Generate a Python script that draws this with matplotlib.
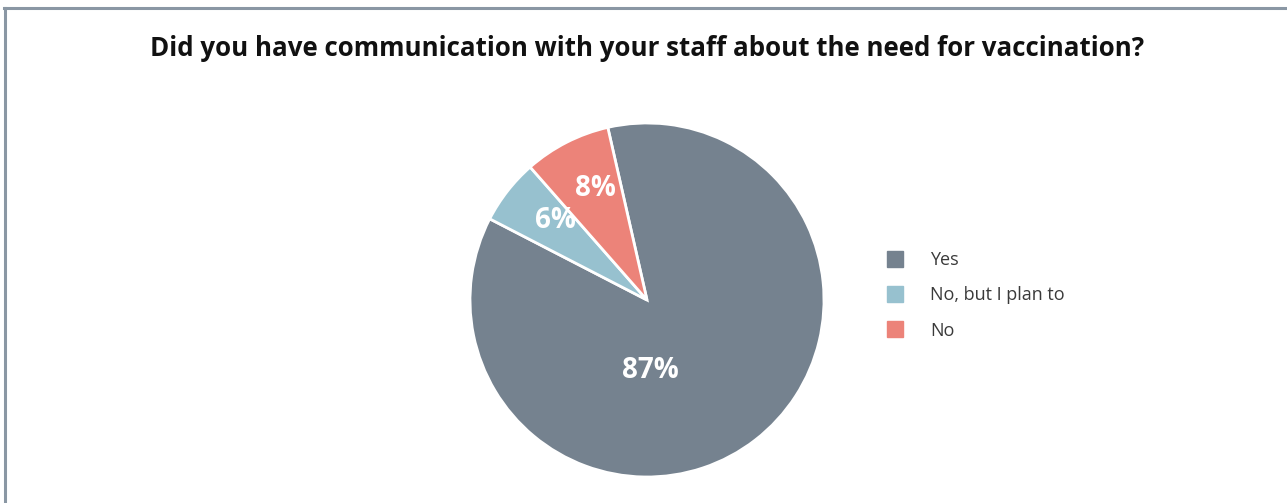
import matplotlib.pyplot as plt
from matplotlib.lines import Line2D

answers = ["Yes", "No, but I plan to", "No"]
shares = [87, 6, 8]
colors = ["#75828f", "#97c1cf", "#ec8379"]

plt.rcParams["font.family"] = ["Open Sans", "DejaVu Sans"]

W, H = 1287, 503
fig = plt.figure(figsize=(W / 100, H / 100), dpi=100)

# light frame: top and left edges only
fig.add_artist(Line2D([4 / W, 1], [1 - 8 / H, 1 - 8 / H], color="#8a97a4", lw=2.2))
fig.add_artist(Line2D([5 / W, 5 / W], [0, 1 - 8 / H], color="#8a97a4", lw=2.2))

fig.text(647 / W, 1 - 49 / H, "Did you have communication with your staff about the need for vaccination?",
         ha="center", va="center", fontsize=18.6, fontweight="bold", color="#111111")

cx, cy, r = 647, 300, 177
ax = fig.add_axes([(cx - r) / W, (H - cy - r) / H, 2 * r / W, 2 * r / H])
wedges, texts, autotexts = ax.pie(
    shares, colors=colors, startangle=102.8, counterclock=False,
    autopct=lambda p: "", pctdistance=0.7,
    wedgeprops=dict(edgecolor="white", linewidth=2),
)
ax.set_xlim(-1, 1)
ax.set_ylim(-1, 1)

for t, v in zip(autotexts, shares):
    t.set_text(f"{v}%")
    t.set_color("white")
    t.set_fontsize(20)
    t.set_fontweight("bold")
autotexts[0].set_position((0.02, -0.4))
autotexts[1].set_position((-0.52, 0.45))
autotexts[2].set_position((-0.29, 0.63))

handles = [Line2D([], [], ls="none", marker="s", markersize=11, color=c) for c in colors]
leg = fig.legend(handles, answers, loc="upper left", bbox_to_anchor=(870 / W, 1 - 235 / H),
                 frameon=False, fontsize=13, handlelength=1.0, handletextpad=1.45,
                 labelspacing=0.95)
for t in leg.get_texts():
    t.set_color("#3a3a3a")

fig.savefig("out.png", dpi=100)
